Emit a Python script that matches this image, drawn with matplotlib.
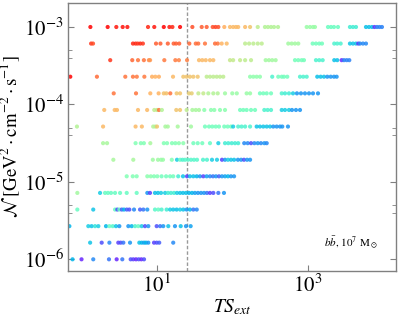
import numpy as np
import matplotlib
matplotlib.use("Agg")
import matplotlib.pyplot as plt
from matplotlib.ticker import FixedLocator, LogLocator, NullFormatter

plt.rcParams['font.family'] = ['STIXGeneral', 'Liberation Serif', 'DejaVu Serif']
plt.rcParams['mathtext.fontset'] = 'stix'

# normalisation of each scan row
norm_rows = [1.0e-6, 1.64e-6, 2.68e-6, 4.39e-6, 7.20e-6, 1.18e-5, 1.93e-5, 3.16e-5,
             5.18e-5, 8.48e-5, 1.39e-4, 2.28e-4, 3.73e-4, 6.11e-4, 1.0e-3]

# TS_ext values per row, and the colour value (0 = violet, 1 = red) of every point
ts_00 = [0.76, 1.0, 1.43, 2.31, 2.92, 3.47, 4.48, 4.85, 5.27, 5.72, 6.2, 6.73]
c_00 = [0.25, 0.05, 0.18, 0.15, 0.05, 0.15, 0.1, 0.08, 0.05, 0.1, 0.05, 0.1]

ts_01 = [1.30, 1.85, 2.34, 3.07, 3.30, 3.58, 4.39, 5.83, 6.27, 6.73, 7.15, 7.67, 9.13, 9.9, 10.7, 16.4]
c_01 = [0.28, 0.1, 0.18, 0.08, 0.1, 0.15, 0.2, 0.27, 0.25, 0.22, 0.25, 0.2, 0.08, 0.1, 0.12, 0.18]

ts_02 = [0.69, 1.23, 1.36, 1.51, 1.67, 2.11, 2.34, 2.59, 2.86, 3.17, 4.17, 4.62, 5.12,
         5.65, 6.27, 6.93, 7.67, 9.9, 11, 12.1, 14.1, 17.3, 20.6, 24.2, 27.9]
c_02 = [0.25, 0.3, 0.28, 0.35, 0.3, 0.25, 0.45, 0.42, 0.28, 0.2, 0.2, 0.25, 0.4,
        0.45, 0.3, 0.1, 0.2, 0.1, 0.15, 0.2, 0.28, 0.2, 0.27, 0.2, 0.22]

ts_03 = [0.88, 1.43, 2.78, 2.98, 3.17, 3.41, 3.65, 3.97, 4.3, 4.96, 5.96, 6.59, 7.44,
         9.4, 10.4, 11.5, 13.4, 14.9, 16.4, 18.2, 20.2, 22.3, 24.7, 27.3, 30.3, 33.6]
c_03 = [0.45, 0.28, 0.45, 0.1, 0.45, 0.12, 0.25, 0.12, 0.1, 0.18, 0.12, 0.15, 0.2,
        0.42, 0.45, 0.4, 0.38, 0.3, 0.28, 0.27, 0.3, 0.27, 0.2, 0.25, 0.15, 0.18]

ts_04 = [0.88, 1.76, 2.05, 2.24, 2.46, 2.78, 3.24, 3.97, 5.38, 7.44, 8.07, 9.4, 10.3,
         11.3, 12.8, 14.0, 15.3, 16.8, 18.4, 20.2, 22.1, 24.2, 26.5, 29.1, 31.8, 34.9,
         38.3, 42, 45.9, 50.3, 55.7, 64.9, 77.1]
c_04 = [0.57, 0.3, 0.45, 0.45, 0.45, 0.45, 0.45, 0.45, 0.45, 0.2, 0.08, 0.27, 0.27,
        0.3, 0.3, 0.38, 0.38, 0.38, 0.3, 0.28, 0.27, 0.27, 0.25, 0.25, 0.22, 0.2,
        0.2, 0.2, 0.15, 0.08, 0.1, 0.15, 0.2]

ts_05 = [3.97, 4.77, 5.38, 7.44, 8.26, 9.13, 10.1, 11.5, 13.2, 14.9, 16.4, 19.1, 22.1,
         25, 27.3, 30.3, 33.6, 37.1, 41.1, 45.5, 50.3, 55.2, 60.4, 66.2, 72.6, 79.6,
         87.1, 95.5, 105]
c_05 = [0.5, 0.5, 0.5, 0.52, 0.52, 0.5, 0.5, 0.47, 0.47, 0.47, 0.47, 0.38, 0.28,
        0.08, 0.27, 0.27, 0.25, 0.2, 0.08, 0.22, 0.18, 0.15, 0.2, 0.12, 0.2, 0.22,
        0.25, 0.2, 0.2]

ts_06 = [2.64, 4.85, 8.8, 10.3, 11.3, 12.0, 15.7, 18.4, 20.2, 21.8, 23.5, 25.7, 28.2,
         30.9, 33.9, 40.7, 45.9, 53.5, 62.3, 72.6, 79.6, 87.1, 95.5, 105, 118, 130,
         142, 156, 171]
c_06 = [0.58, 0.58, 0.56, 0.56, 0.55, 0.55, 0.5, 0.3, 0.45, 0.4, 0.42, 0.42, 0.42,
        0.42, 0.42, 0.4, 0.4, 0.3, 0.3, 0.08, 0.2, 0.3, 0.28, 0.27, 0.2, 0.2,
        0.1, 0.2, 0.2]

ts_07 = [1.93, 2.18, 5.2, 6.1, 6.7, 8.15, 12.3, 13.6, 15.8, 17.5, 19.5, 22.3, 30.3,
         34.6, 39.8, 50.3, 64.9, 79.6, 88, 97.6, 108, 119, 143, 159, 176, 195, 216,
         238, 264, 284]
c_07 = [0.58, 0.58, 0.5, 0.5, 0.5, 0.58, 0.5, 0.5, 0.5, 0.5, 0.52, 0.52, 0.47,
        0.47, 0.47, 0.45, 0.3, 0.38, 0.38, 0.38, 0.38, 0.38, 0.18, 0.18, 0.1, 0.18, 0.2,
        0.18, 0.2, 0.18]

ts_08 = [0.87, 1.93, 5.2, 6.3, 8.9, 9.5, 10, 12.9, 13.9, 18.8, 28.2, 43.2, 48.9, 54,
         59.9, 66.2, 77.8, 86.3, 95.5, 102, 119, 132, 147, 171, 209, 231, 256, 284,
         314, 347, 385, 426, 457, 543]
c_08 = [0.6, 0.74, 0.74, 0.74, 0.6, 0.6, 0.72, 0.58, 0.58, 0.58, 0.57, 0.47, 0.47, 0.47,
        0.47, 0.47, 0.47, 0.47, 0.47, 0.3, 0.4, 0.4, 0.4, 0.4, 0.28, 0.28, 0.28, 0.28,
        0.28, 0.2, 0.2, 0.2, 0.2, 0.2]

ts_09 = [2.0, 2.75, 2.95, 5.6, 7.4, 9.2, 10, 10.6, 11.6, 18.0, 20.2, 24.7, 29.4, 32.6,
         36, 42.3, 51.9, 57.4, 68.3, 79.6, 126, 139, 154, 176, 199, 264, 292, 324,
         449, 496, 560, 614, 693, 784]
c_09 = [0.74, 0.74, 0.74, 0.74, 0.74, 0.62, 0.62, 0.85, 0.6, 0.72, 0.72, 0.62, 0.58, 0.58,
        0.58, 0.52, 0.52, 0.52, 0.52, 0.52, 0.47, 0.47, 0.47, 0.47, 0.47, 0.4, 0.4, 0.4,
        0.3, 0.3, 0.3, 0.2, 0.2, 0.2]

ts_10 = [2.67, 5.27, 8.15, 10.5, 12.3, 13.3, 15.0, 18.2, 20.2, 26.5, 28.8, 35.3, 41.1,
         47.8, 55.7, 63.7, 79.6, 99.4, 114, 154, 171, 231, 256, 284, 324, 449, 496,
         560, 633, 714, 807, 912, 1031, 1165, 1357]
c_10 = [0.85, 0.85, 0.75, 0.75, 0.73, 0.73, 0.85, 0.72, 0.72, 0.7, 0.7, 0.63, 0.63,
        0.6, 0.6, 0.6, 0.56, 0.55, 0.55, 0.55, 0.55, 0.47, 0.47, 0.47, 0.47, 0.4, 0.38,
        0.38, 0.3, 0.2, 0.2, 0.2, 0.2, 0.2, 0.2]

ts_11 = [0.71, 1.6, 3.8, 4.8, 5.4, 6.8, 8.6, 9.5, 10.6, 16.3, 22.3, 24.7, 27.3, 30.3,
         34.6, 45.5, 50.3, 55.7, 61.8, 68.3, 75.5, 171, 189, 209, 231, 336, 404, 449,
         481, 532, 784, 867, 962, 1327, 1472, 1629, 1803, 2000, 2210, 2399]
c_11 = [1.0, 0.86, 0.85, 0.85, 0.84, 0.84, 0.76, 0.75, 0.76, 0.74, 0.72, 0.72, 0.72, 0.72,
        0.72, 0.62, 0.62, 0.62, 0.62, 0.62, 0.62, 0.53, 0.53, 0.53, 0.53, 0.4, 0.47, 0.47,
        0.47, 0.47, 0.4, 0.4, 0.4, 0.27, 0.27, 0.27, 0.2, 0.2, 0.2, 0.2]

ts_12 = [2.4, 4.7, 5.6, 6.7, 7.8, 8.1, 12.5, 17.5, 19.5, 25, 36, 39.8, 44.2, 50.3, 55.7,
         92.6, 102, 126, 147, 176, 275, 304, 336, 373, 673, 744, 825, 885, 1276, 1411,
         1566, 2229, 2443, 2794, 2999, 3256, 3526]
c_12 = [0.93, 0.87, 0.85, 0.85, 0.82, 0.8, 0.84, 0.84, 0.83, 0.83, 0.74, 0.74, 0.74, 0.74, 0.74,
        0.64, 0.63, 0.63, 0.62, 0.62, 0.57, 0.57, 0.57, 0.57, 0.48, 0.48, 0.48, 0.48, 0.4, 0.4,
        0.4, 0.27, 0.27, 0.05, 0.17, 0.17, 0.17]

ts_13 = [1.34, 1.42, 4.8, 5.2, 5.55, 6.0, 6.5, 9.7, 11.1, 13.9, 16.6, 17.9, 19.7, 26.8,
         32.6, 35.2, 43.2, 58.7, 63.7, 71.9, 83.8, 147, 166, 189, 216, 244, 548, 608,
         673, 744, 1153, 1276, 1411, 1533, 2229, 2443, 2710, 3597, 3945, 4325, 4637,
         4886, 5350, 5866]
c_13 = [0.93, 0.9, 0.95, 0.95, 0.93, 0.95, 0.93, 0.88, 0.88, 0.88, 0.88, 0.88, 0.88, 0.87,
        0.86, 0.86, 0.85, 0.86, 0.85, 0.75, 0.74, 0.62, 0.62, 0.62, 0.62, 0.62, 0.57, 0.57,
        0.57, 0.57, 0.47, 0.47, 0.47, 0.47, 0.4, 0.4, 0.4, 0.28, 0.28, 0.28, 0.07,
        0.18, 0.18, 0.18]

ts_14 = [1.31, 2.22, 2.89, 3.51, 4.05, 7.6, 9.2, 12.3, 14.6, 16.0, 20.2, 29.4, 39.1,
         45.5, 54.7, 59.6, 64.9, 77.9, 92.6, 102, 111, 119, 147, 171, 216, 269, 295,
         324, 355, 401, 962, 1063, 1165, 1238, 1841, 2018, 2210, 2497, 3597, 3945,
         4325, 5866, 6432, 7050, 7606, 8209, 8860, 9550]
c_14 = [1.0, 1.0, 0.97, 0.98, 0.98, 0.95, 0.97, 1.0, 0.97, 0.95, 1.0, 0.9, 0.88,
        0.88, 0.9, 0.92, 0.9, 0.76, 0.74, 0.74, 0.74, 0.74, 0.74, 0.72, 0.62, 0.6, 0.6,
        0.6, 0.6, 0.6, 0.55, 0.55, 0.55, 0.55, 0.46, 0.46, 0.46, 0.46, 0.38, 0.38,
        0.38, 0.27, 0.27, 0.27, 0.06, 0.17, 0.17, 0.17]

ts_rows = [ts_00, ts_01, ts_02, ts_03, ts_04, ts_05, ts_06, ts_07,
           ts_08, ts_09, ts_10, ts_11, ts_12, ts_13, ts_14]
c_rows = [c_00, c_01, c_02, c_03, c_04, c_05, c_06, c_07,
          c_08, c_09, c_10, c_11, c_12, c_13, c_14]

ts_threshold = 25

fig = plt.figure(figsize=(4.0, 3.16), dpi=100)
ax = fig.add_axes([0.17, 0.1434, 0.82, 0.846])

for norm, ts, cv in zip(norm_rows, ts_rows, c_rows):
    ax.scatter(ts, [norm] * len(ts), c=cv, cmap='rainbow', vmin=0, vmax=1,
               s=9, linewidths=0, alpha=0.85, zorder=2)

ax.axvline(ts_threshold, color='#999999', ls=(0, (2.5, 1.5)), lw=1.0, zorder=1)

ax.set_xscale('log')
ax.set_yscale('log')
ax.set_xlim(0.662, 14660)
ax.set_ylim(7.13e-7, 2.02e-3)

ax.xaxis.set_major_locator(FixedLocator([10, 1000]))
ax.xaxis.set_minor_locator(FixedLocator([]))
ax.yaxis.set_major_locator(LogLocator(base=10))
ax.yaxis.set_minor_locator(LogLocator(base=10, subs=(4.0, 5.0)))
ax.yaxis.set_minor_formatter(NullFormatter())

for sp in ax.spines.values():
    sp.set_color('#808080')
    sp.set_linewidth(1.0)

ax.tick_params(axis='both', which='both', direction='in', color='#808080',
               labelsize=15, pad=3)
ax.tick_params(axis='y', which='both', left=True, right=True)
ax.tick_params(axis='y', which='major', length=4)
ax.tick_params(axis='y', which='minor', length=3)
ax.tick_params(axis='x', which='major', length=4, top=False)

ax.set_xlabel(r'$TS_{ext}$', fontsize=14, labelpad=0)
ax.set_ylabel(r'$\mathcal{N}\;[\mathrm{GeV}^2\cdot\mathrm{cm}^{-2}\cdot\mathrm{s}^{-1}]$',
              fontsize=13.5, labelpad=1)

ax.text(0.945, 0.104, r'$b\bar{b}$, $10^7$ M$_\odot$', transform=ax.transAxes,
        ha='right', va='center', fontsize=8)

fig.savefig('out.png', dpi=100)
